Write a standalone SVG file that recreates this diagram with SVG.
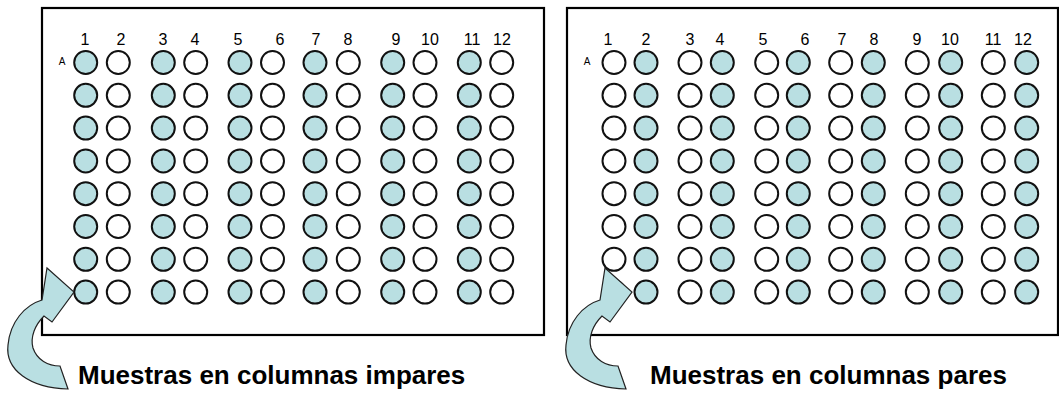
<svg xmlns="http://www.w3.org/2000/svg" width="1059" height="394" viewBox="0 0 1059 394">
<style>
.plate{fill:#fff;stroke:#000;stroke-width:2.2}
.w{fill:#fff;stroke:#111;stroke-width:2}
.f{fill:#b9dfe2;stroke:#111;stroke-width:2}
.num{font-family:"Liberation Sans",Arial,sans-serif;font-size:16px;fill:#000;text-anchor:middle}
.row{font-family:"Liberation Sans",Arial,sans-serif;font-size:10px;fill:#000;text-anchor:middle}
.cap{font-family:"Liberation Sans",Arial,sans-serif;font-size:26px;font-weight:bold;fill:#000}
.arr{fill:#b9dfe2;stroke:#222;stroke-width:1.2}
</style>
<defs>
<path id="curved" class="arr" d="M 68 389 C 30 388, 5 370, 8 345 C 10 322, 25 305, 42 300 L 47 268 L 74 292 L 52 322 L 44 316 C 35 325, 30 337, 33 348 C 37 360, 48 366, 60 366 Z"/>
</defs>
<g id="plate-left">
<rect class="plate" x="42" y="8" width="502" height="327"/>
<g class="labels">
<text class="num" x="85" y="45">1</text><text class="num" x="121" y="45">2</text>
<text class="num" x="163" y="45">3</text><text class="num" x="195" y="45">4</text>
<text class="num" x="238" y="45">5</text><text class="num" x="280" y="45">6</text>
<text class="num" x="316" y="45">7</text><text class="num" x="348" y="45">8</text>
<text class="num" x="396" y="45">9</text><text class="num" x="430" y="45">10</text>
<text class="num" x="472" y="45">11</text><text class="num" x="502" y="45">12</text>
<text class="row" x="62" y="65">A</text>
</g>
<g id="wells-left">
<g transform="translate(0,62.5)">
<circle class="f" cx="85.7" cy="0" r="11.5"/><circle class="w" cx="118.3" cy="0" r="11.5"/><circle class="f" cx="163.3" cy="0" r="11.5"/><circle class="w" cx="195.7" cy="0" r="11.5"/><circle class="f" cx="240" cy="0" r="11.5"/><circle class="w" cx="272.5" cy="0" r="11.5"/><circle class="f" cx="315" cy="0" r="11.5"/><circle class="w" cx="348.3" cy="0" r="11.5"/><circle class="f" cx="392.7" cy="0" r="11.5"/><circle class="w" cx="425" cy="0" r="11.5"/><circle class="f" cx="469.3" cy="0" r="11.5"/><circle class="w" cx="501.7" cy="0" r="11.5"/>
</g>
<g transform="translate(0,95.3)">
<circle class="f" cx="85.7" cy="0" r="11.5"/><circle class="w" cx="118.3" cy="0" r="11.5"/><circle class="f" cx="163.3" cy="0" r="11.5"/><circle class="w" cx="195.7" cy="0" r="11.5"/><circle class="f" cx="240" cy="0" r="11.5"/><circle class="w" cx="272.5" cy="0" r="11.5"/><circle class="f" cx="315" cy="0" r="11.5"/><circle class="w" cx="348.3" cy="0" r="11.5"/><circle class="f" cx="392.7" cy="0" r="11.5"/><circle class="w" cx="425" cy="0" r="11.5"/><circle class="f" cx="469.3" cy="0" r="11.5"/><circle class="w" cx="501.7" cy="0" r="11.5"/>
</g>
<g transform="translate(0,128.1)">
<circle class="f" cx="85.7" cy="0" r="11.5"/><circle class="w" cx="118.3" cy="0" r="11.5"/><circle class="f" cx="163.3" cy="0" r="11.5"/><circle class="w" cx="195.7" cy="0" r="11.5"/><circle class="f" cx="240" cy="0" r="11.5"/><circle class="w" cx="272.5" cy="0" r="11.5"/><circle class="f" cx="315" cy="0" r="11.5"/><circle class="w" cx="348.3" cy="0" r="11.5"/><circle class="f" cx="392.7" cy="0" r="11.5"/><circle class="w" cx="425" cy="0" r="11.5"/><circle class="f" cx="469.3" cy="0" r="11.5"/><circle class="w" cx="501.7" cy="0" r="11.5"/>
</g>
<g transform="translate(0,160.9)">
<circle class="f" cx="85.7" cy="0" r="11.5"/><circle class="w" cx="118.3" cy="0" r="11.5"/><circle class="f" cx="163.3" cy="0" r="11.5"/><circle class="w" cx="195.7" cy="0" r="11.5"/><circle class="f" cx="240" cy="0" r="11.5"/><circle class="w" cx="272.5" cy="0" r="11.5"/><circle class="f" cx="315" cy="0" r="11.5"/><circle class="w" cx="348.3" cy="0" r="11.5"/><circle class="f" cx="392.7" cy="0" r="11.5"/><circle class="w" cx="425" cy="0" r="11.5"/><circle class="f" cx="469.3" cy="0" r="11.5"/><circle class="w" cx="501.7" cy="0" r="11.5"/>
</g>
<g transform="translate(0,193.7)">
<circle class="f" cx="85.7" cy="0" r="11.5"/><circle class="w" cx="118.3" cy="0" r="11.5"/><circle class="f" cx="163.3" cy="0" r="11.5"/><circle class="w" cx="195.7" cy="0" r="11.5"/><circle class="f" cx="240" cy="0" r="11.5"/><circle class="w" cx="272.5" cy="0" r="11.5"/><circle class="f" cx="315" cy="0" r="11.5"/><circle class="w" cx="348.3" cy="0" r="11.5"/><circle class="f" cx="392.7" cy="0" r="11.5"/><circle class="w" cx="425" cy="0" r="11.5"/><circle class="f" cx="469.3" cy="0" r="11.5"/><circle class="w" cx="501.7" cy="0" r="11.5"/>
</g>
<g transform="translate(0,226.5)">
<circle class="f" cx="85.7" cy="0" r="11.5"/><circle class="w" cx="118.3" cy="0" r="11.5"/><circle class="f" cx="163.3" cy="0" r="11.5"/><circle class="w" cx="195.7" cy="0" r="11.5"/><circle class="f" cx="240" cy="0" r="11.5"/><circle class="w" cx="272.5" cy="0" r="11.5"/><circle class="f" cx="315" cy="0" r="11.5"/><circle class="w" cx="348.3" cy="0" r="11.5"/><circle class="f" cx="392.7" cy="0" r="11.5"/><circle class="w" cx="425" cy="0" r="11.5"/><circle class="f" cx="469.3" cy="0" r="11.5"/><circle class="w" cx="501.7" cy="0" r="11.5"/>
</g>
<g transform="translate(0,259.3)">
<circle class="f" cx="85.7" cy="0" r="11.5"/><circle class="w" cx="118.3" cy="0" r="11.5"/><circle class="f" cx="163.3" cy="0" r="11.5"/><circle class="w" cx="195.7" cy="0" r="11.5"/><circle class="f" cx="240" cy="0" r="11.5"/><circle class="w" cx="272.5" cy="0" r="11.5"/><circle class="f" cx="315" cy="0" r="11.5"/><circle class="w" cx="348.3" cy="0" r="11.5"/><circle class="f" cx="392.7" cy="0" r="11.5"/><circle class="w" cx="425" cy="0" r="11.5"/><circle class="f" cx="469.3" cy="0" r="11.5"/><circle class="w" cx="501.7" cy="0" r="11.5"/>
</g>
<g transform="translate(0,292.1)">
<circle class="f" cx="85.7" cy="0" r="11.5"/><circle class="w" cx="118.3" cy="0" r="11.5"/><circle class="f" cx="163.3" cy="0" r="11.5"/><circle class="w" cx="195.7" cy="0" r="11.5"/><circle class="f" cx="240" cy="0" r="11.5"/><circle class="w" cx="272.5" cy="0" r="11.5"/><circle class="f" cx="315" cy="0" r="11.5"/><circle class="w" cx="348.3" cy="0" r="11.5"/><circle class="f" cx="392.7" cy="0" r="11.5"/><circle class="w" cx="425" cy="0" r="11.5"/><circle class="f" cx="469.3" cy="0" r="11.5"/><circle class="w" cx="501.7" cy="0" r="11.5"/>
</g>
</g>
</g>
<g id="plate-right">
<rect class="plate" x="567" y="8" width="491" height="327"/>
<g class="labels">
<text class="num" x="608" y="45">1</text><text class="num" x="646" y="45">2</text>
<text class="num" x="690" y="45">3</text><text class="num" x="720" y="45">4</text>
<text class="num" x="763" y="45">5</text><text class="num" x="805" y="45">6</text>
<text class="num" x="842" y="45">7</text><text class="num" x="874" y="45">8</text>
<text class="num" x="917" y="45">9</text><text class="num" x="950" y="45">10</text>
<text class="num" x="993" y="45">11</text><text class="num" x="1023" y="45">12</text>
<text class="row" x="587" y="65">A</text>
</g>
<g id="wells-right">
<g transform="translate(0,62.5)">
<circle class="w" cx="614" cy="0" r="11.5"/><circle class="f" cx="646" cy="0" r="11.5"/><circle class="w" cx="690" cy="0" r="11.5"/><circle class="f" cx="722.3" cy="0" r="11.5"/><circle class="w" cx="766.7" cy="0" r="11.5"/><circle class="f" cx="798.3" cy="0" r="11.5"/><circle class="w" cx="840.7" cy="0" r="11.5"/><circle class="f" cx="873.3" cy="0" r="11.5"/><circle class="w" cx="917.3" cy="0" r="11.5"/><circle class="f" cx="950.7" cy="0" r="11.5"/><circle class="w" cx="993.3" cy="0" r="11.5"/><circle class="f" cx="1026.7" cy="0" r="11.5"/>
</g>
<g transform="translate(0,95.3)">
<circle class="w" cx="614" cy="0" r="11.5"/><circle class="f" cx="646" cy="0" r="11.5"/><circle class="w" cx="690" cy="0" r="11.5"/><circle class="f" cx="722.3" cy="0" r="11.5"/><circle class="w" cx="766.7" cy="0" r="11.5"/><circle class="f" cx="798.3" cy="0" r="11.5"/><circle class="w" cx="840.7" cy="0" r="11.5"/><circle class="f" cx="873.3" cy="0" r="11.5"/><circle class="w" cx="917.3" cy="0" r="11.5"/><circle class="f" cx="950.7" cy="0" r="11.5"/><circle class="w" cx="993.3" cy="0" r="11.5"/><circle class="f" cx="1026.7" cy="0" r="11.5"/>
</g>
<g transform="translate(0,128.1)">
<circle class="w" cx="614" cy="0" r="11.5"/><circle class="f" cx="646" cy="0" r="11.5"/><circle class="w" cx="690" cy="0" r="11.5"/><circle class="f" cx="722.3" cy="0" r="11.5"/><circle class="w" cx="766.7" cy="0" r="11.5"/><circle class="f" cx="798.3" cy="0" r="11.5"/><circle class="w" cx="840.7" cy="0" r="11.5"/><circle class="f" cx="873.3" cy="0" r="11.5"/><circle class="w" cx="917.3" cy="0" r="11.5"/><circle class="f" cx="950.7" cy="0" r="11.5"/><circle class="w" cx="993.3" cy="0" r="11.5"/><circle class="f" cx="1026.7" cy="0" r="11.5"/>
</g>
<g transform="translate(0,160.9)">
<circle class="w" cx="614" cy="0" r="11.5"/><circle class="f" cx="646" cy="0" r="11.5"/><circle class="w" cx="690" cy="0" r="11.5"/><circle class="f" cx="722.3" cy="0" r="11.5"/><circle class="w" cx="766.7" cy="0" r="11.5"/><circle class="f" cx="798.3" cy="0" r="11.5"/><circle class="w" cx="840.7" cy="0" r="11.5"/><circle class="f" cx="873.3" cy="0" r="11.5"/><circle class="w" cx="917.3" cy="0" r="11.5"/><circle class="f" cx="950.7" cy="0" r="11.5"/><circle class="w" cx="993.3" cy="0" r="11.5"/><circle class="f" cx="1026.7" cy="0" r="11.5"/>
</g>
<g transform="translate(0,193.7)">
<circle class="w" cx="614" cy="0" r="11.5"/><circle class="f" cx="646" cy="0" r="11.5"/><circle class="w" cx="690" cy="0" r="11.5"/><circle class="f" cx="722.3" cy="0" r="11.5"/><circle class="w" cx="766.7" cy="0" r="11.5"/><circle class="f" cx="798.3" cy="0" r="11.5"/><circle class="w" cx="840.7" cy="0" r="11.5"/><circle class="f" cx="873.3" cy="0" r="11.5"/><circle class="w" cx="917.3" cy="0" r="11.5"/><circle class="f" cx="950.7" cy="0" r="11.5"/><circle class="w" cx="993.3" cy="0" r="11.5"/><circle class="f" cx="1026.7" cy="0" r="11.5"/>
</g>
<g transform="translate(0,226.5)">
<circle class="w" cx="614" cy="0" r="11.5"/><circle class="f" cx="646" cy="0" r="11.5"/><circle class="w" cx="690" cy="0" r="11.5"/><circle class="f" cx="722.3" cy="0" r="11.5"/><circle class="w" cx="766.7" cy="0" r="11.5"/><circle class="f" cx="798.3" cy="0" r="11.5"/><circle class="w" cx="840.7" cy="0" r="11.5"/><circle class="f" cx="873.3" cy="0" r="11.5"/><circle class="w" cx="917.3" cy="0" r="11.5"/><circle class="f" cx="950.7" cy="0" r="11.5"/><circle class="w" cx="993.3" cy="0" r="11.5"/><circle class="f" cx="1026.7" cy="0" r="11.5"/>
</g>
<g transform="translate(0,259.3)">
<circle class="w" cx="614" cy="0" r="11.5"/><circle class="f" cx="646" cy="0" r="11.5"/><circle class="w" cx="690" cy="0" r="11.5"/><circle class="f" cx="722.3" cy="0" r="11.5"/><circle class="w" cx="766.7" cy="0" r="11.5"/><circle class="f" cx="798.3" cy="0" r="11.5"/><circle class="w" cx="840.7" cy="0" r="11.5"/><circle class="f" cx="873.3" cy="0" r="11.5"/><circle class="w" cx="917.3" cy="0" r="11.5"/><circle class="f" cx="950.7" cy="0" r="11.5"/><circle class="w" cx="993.3" cy="0" r="11.5"/><circle class="f" cx="1026.7" cy="0" r="11.5"/>
</g>
<g transform="translate(0,292.1)">
<circle class="w" cx="614" cy="0" r="11.5"/><circle class="f" cx="646" cy="0" r="11.5"/><circle class="w" cx="690" cy="0" r="11.5"/><circle class="f" cx="722.3" cy="0" r="11.5"/><circle class="w" cx="766.7" cy="0" r="11.5"/><circle class="f" cx="798.3" cy="0" r="11.5"/><circle class="w" cx="840.7" cy="0" r="11.5"/><circle class="f" cx="873.3" cy="0" r="11.5"/><circle class="w" cx="917.3" cy="0" r="11.5"/><circle class="f" cx="950.7" cy="0" r="11.5"/><circle class="w" cx="993.3" cy="0" r="11.5"/><circle class="f" cx="1026.7" cy="0" r="11.5"/>
</g>
</g>
</g>
<g id="connectors">
<use id="arrow-left" href="#curved"/>
<use id="arrow-right" href="#curved" transform="translate(558,0)"/>
</g>
<g id="captions">
<text id="caption-left" class="cap" x="78" y="384">Muestras en columnas impares</text>
<text id="caption-right" class="cap" x="650" y="384">Muestras en columnas pares</text>
</g>
</svg>
